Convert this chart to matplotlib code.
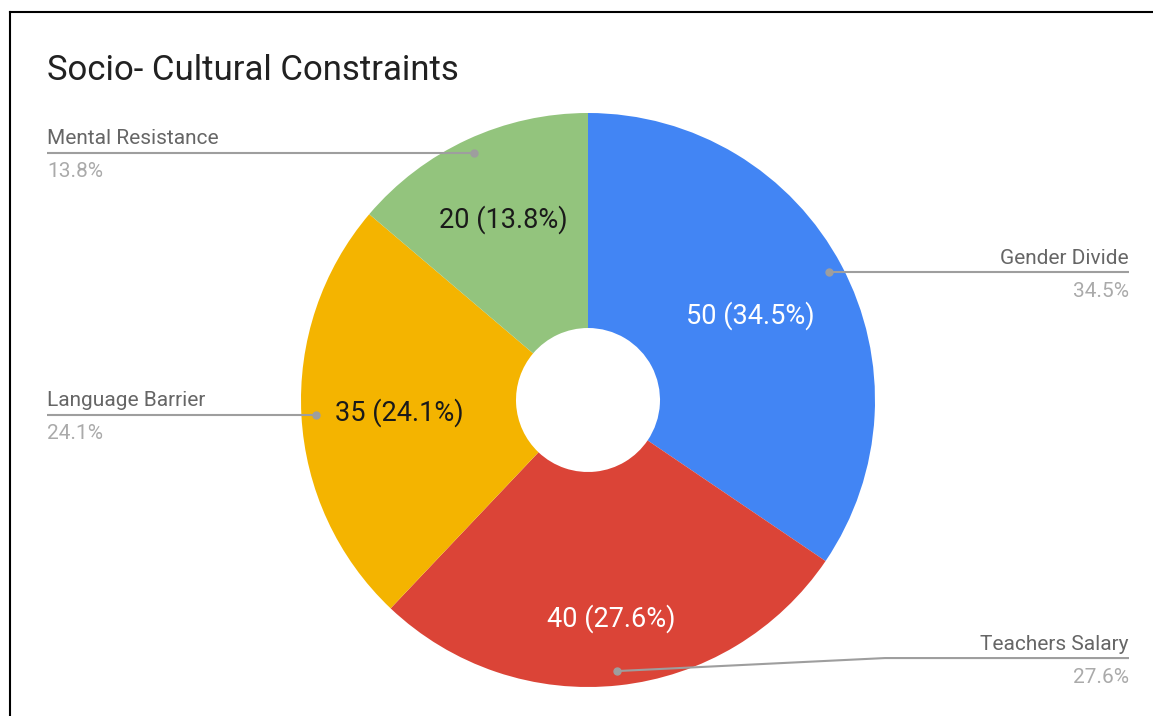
import numpy as np
import matplotlib.pyplot as plt

plt.rcParams['font.family'] = ['Roboto', 'DejaVu Sans']

categories = ['Gender Divide', 'Teachers Salary', 'Language Barrier', 'Mental Resistance']
counts = [50, 40, 35, 20]
colors = ['#4285F4', '#DB4437', '#F4B400', '#93C47D']
inner_text_colors = ['white', 'white', '#1a1a1a', '#1a1a1a']

W, H = 1153, 716
fig = plt.figure(figsize=(W / 100, H / 100), dpi=100)
ax = fig.add_axes([0, 0, 1, 1])

cx, cy = 588, H - 400
R, hole = 287, 72

wedges, _ = ax.pie(counts, colors=colors, startangle=90, counterclock=False,
                   center=(cx, cy), radius=R, frame=True,
                   wedgeprops=dict(width=R - hole, linewidth=0))
ax.set_xlim(0, W)
ax.set_ylim(0, H)
ax.set_aspect('equal')
ax.axis('off')

total = sum(counts)
pcts = [100 * c / total for c in counts]

# value labels inside the slices
label_r = [0.64, 0.76, 0.66, 0.70]
for w, c, p, tc, lr in zip(wedges, counts, pcts, inner_text_colors, label_r):
    mid = np.deg2rad((w.theta1 + w.theta2) / 2)
    x = cx + lr * R * np.cos(mid)
    y = cy + lr * R * np.sin(mid) - 2
    ax.text(x, y, f'{c} ({p:.1f}%)', ha='center', va='center', fontsize=19.5, color=tc)

# leader lines with category name and share
left_x, right_x = 47, 1129
for w, name, p in zip(wedges, categories, pcts):
    mid = np.deg2rad((w.theta1 + w.theta2) / 2)
    dx = cx + 0.95 * R * np.cos(mid)
    dy = cy + 0.95 * R * np.sin(mid)
    if np.cos(mid) >= 0:
        end_x, ha = right_x, 'right'
    else:
        end_x, ha = left_x, 'left'
    if name == 'Teachers Salary':
        line_y = dy + 13
        xs = [dx, 885, end_x]
        ys = [dy, line_y, line_y]
    else:
        line_y = dy
        xs = [dx, end_x]
        ys = [dy, dy]
    ax.plot(xs, ys, color='#9e9e9e', linewidth=1.5, solid_capstyle='butt')
    ax.plot(dx, dy, 'o', color='#9e9e9e', markersize=5)
    ax.text(end_x, line_y + 14, name, ha=ha, va='center', fontsize=15, color='#666666')
    ax.text(end_x, line_y - 19, f'{p:.1f}%', ha=ha, va='center', fontsize=15, color='#aaaaaa')

ax.text(47, H - 70, 'Socio- Cultural Constraints', ha='left', va='center',
        fontsize=25, color='#212121')

# frame edges along the top and left
ax.plot([10, W], [H - 12, H - 12], color='black', linewidth=1.5, clip_on=False)
ax.plot([10, 10], [0, H - 12], color='black', linewidth=1.5, clip_on=False)

fig.savefig('out.png', dpi=100)
